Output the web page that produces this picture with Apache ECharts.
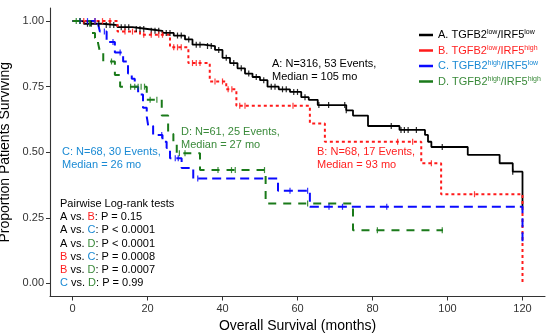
<!DOCTYPE html>
<html><head><meta charset="utf-8">
<script src="https://cdn.jsdelivr.net/npm/echarts@6/dist/echarts.min.js"></script>
<style>html,body{margin:0;padding:0;background:#fff}#c{width:550px;height:333px}</style>
</head><body><div id="c"></div>
<script>
// ---- data (months, survival proportion after each step) ----
const xTicks = [0, 20, 40, 60, 80, 100, 120];
const yTicks = [0, 0.25, 0.5, 0.75, 1.0];

const timesA = [0, 3, 8, 12, 16, 20, 24, 27, 30, 32, 35, 38, 40, 42, 44, 46, 48, 50, 52, 55, 58, 61, 63, 65.4, 73, 74.8, 78.8, 87.2, 94, 94.8, 95.7, 105.4, 113.9, 117.4, 120];
const survA  = [1.0, 0.99, 0.985, 0.977, 0.97, 0.963, 0.955, 0.945, 0.93, 0.91, 0.905, 0.89, 0.86, 0.84, 0.82, 0.80, 0.787, 0.775, 0.75, 0.74, 0.73, 0.71, 0.70, 0.68, 0.66, 0.64, 0.60, 0.585, 0.566, 0.54, 0.52, 0.49, 0.458, 0.426, 0.29];
const censA  = [2, 4, 5, 7, 9, 10, 11, 13, 14, 15, 17, 18, 19, 21, 22, 23, 25, 26, 28, 29, 31, 33, 34, 36, 37, 39, 41, 43, 45, 47, 49, 51, 53, 54, 56, 57, 59, 60, 62, 65.7, 68.3, 72.6, 73, 85, 87.6, 88.5, 89.5, 91.7, 98.6, 117.4];

const timesB = [0, 12, 18, 26, 30.9, 36.6, 41, 43.7, 63.3, 67.3, 93, 98.3, 120];
const survB  = [1.0, 0.96, 0.948, 0.90, 0.84, 0.77, 0.74, 0.677, 0.61, 0.54, 0.458, 0.34, 0.0];
const censB  = [3, 6, 8, 10, 14, 16, 19, 21, 23, 24, 27, 28, 29, 32, 33, 34, 38, 40, 41.5, 42.5, 44.6, 46, 58.8, 86.7, 90.7, 95.7, 107.2];

const timesC = [0, 6.8, 7.3, 9.1, 11.3, 13.5, 14.8, 15.8, 16.6, 17.5, 18.8, 19.8, 20.2, 21.5, 24, 25.1, 26, 29.1, 32.2, 54.8, 63.3, 120];
const survC  = [1.0, 0.99, 0.96, 0.92, 0.88, 0.846, 0.80, 0.78, 0.75, 0.72, 0.67, 0.636, 0.60, 0.566, 0.54, 0.516, 0.477, 0.44, 0.40, 0.353, 0.292, 0.15];
const censC  = [2, 4, 6, 8.5, 10.8, 12.7, 23.8, 27.4, 28.2, 33.4, 58, 62.7, 68.4, 72, 83.8];

const timesD = [0, 4.7, 5.1, 6, 6.8, 7.3, 8.2, 11.3, 12.7, 19.8, 23.8, 25.5, 26.9, 27.8, 34, 51.5, 74.8, 98.8];
const survD  = [1.0, 0.98, 0.955, 0.936, 0.917, 0.884, 0.846, 0.795, 0.75, 0.70, 0.64, 0.57, 0.535, 0.496, 0.432, 0.305, 0.203, 0.203];
const censD  = [1, 2, 10.4, 15.5, 16.6, 17.5, 18.3, 19.2, 20.7, 22.5, 28.5, 30, 38.8, 42.4, 43.4, 51.2, 62.7, 81.3, 98.6];

const groupNames = ['A', 'B', 'C', 'D'];
const groupLabels = ['A. TGFB2|low|/IRF5|low', 'B. TGFB2|low|/IRF5|high', 'C. TGFB2|high|/IRF5|low', 'D. TGFB2|high|/IRF5|high'];
const annotA = ['A: N=316, 53 Events,', 'Median = 105 mo'];
const annotB = ['B: N=68, 17 Events,', 'Median = 93 mo'];
const annotC = ['C: N=68, 30 Events,', 'Median = 26 mo'];
const annotD = ['D: N=61, 25 Events,', 'Median = 27 mo'];
const pairTitle = 'Pairwise Log-rank tests';
const pairs = [['A', 'B', 'P = 0.15'], ['A', 'C', 'P < 0.0001'], ['A', 'D', 'P < 0.0001'], ['B', 'C', 'P = 0.0008'], ['B', 'D', 'P = 0.0007'], ['C', 'D', 'P = 0.99']];

// ---- styles ----
const lineColors = {A: '#000000', B: '#ff1a1a', C: '#0a0aff', D: '#1a7a1a'};
const textColors = {A: '#000000', B: '#ff2020', C: '#1a8ad4', D: '#3a8a3a'};
const dashes = {A: 'solid', B: [3, 3], C: [9, 5], D: [8, 7]};
const FONT = 'Liberation Sans, Arial, sans-serif';

function pts(t, s) { return t.map((v, i) => [v, s[i]]); }
function stepAt(t, s, x) { let v = s[0]; for (let i = 0; i < t.length; i++) { if (t[i] <= x) v = s[i]; } return v; }
function cens(c, t, s) { return c.map(x => [x, stepAt(t, s, x)]); }

const curves = {A: [timesA, survA, censA], B: [timesB, survB, censB], C: [timesC, survC, censC], D: [timesD, survD, censD]};

const series = [];
groupNames.forEach(g => {
  const [t, s] = curves[g];
  series.push({
    name: g, type: 'line', step: 'end', data: pts(t, s), symbol: 'none',
    lineStyle: {color: lineColors[g], width: g === 'A' ? 1.8 : 2, type: dashes[g]},
    itemStyle: {color: lineColors[g]}, z: g === 'A' ? 2 : 3, silent: true, animation: false
  });
});
groupNames.forEach(g => {
  const [t, s, c] = curves[g];
  series.push({
    name: g + '-cens', type: 'scatter', data: cens(c, t, s), symbol: 'rect', symbolSize: [1.2, 6],
    itemStyle: {color: lineColors[g], opacity: 0.85}, silent: true, animation: false, z: 4
  });
});

function legendText(label) {
  const parts = label.split('|');
  return parts.map((p, i) => (i % 2 === 1 ? '{s|' + p + '}' : '{n|' + p + '}')).join('');
}

const pairRich = {k: {fill: '#000', font: '11px ' + FONT, lineHeight: 13.3}};
groupNames.forEach(g => { pairRich[g] = {fill: textColors[g], font: '11px ' + FONT, lineHeight: 13.3}; });
const pairLines = ['{k|' + pairTitle + '}'].concat(pairs.map(p => '{' + p[0] + '|' + p[0] + '}{k| vs. }{' + p[1] + '|' + p[1] + '}{k|: ' + p[2] + '}'));

function annot(lines, color, x, y) {
  return {type: 'text', left: x, top: y, silent: true,
    style: {text: lines.join('\n'), fill: color, font: '11px ' + FONT, lineHeight: 13.3}};
}

const chart = echarts.init(document.getElementById('c'), null, {renderer: 'canvas'});
chart.setOption({
  animation: false,
  backgroundColor: '#ffffff',
  grid: {left: 50, right: 5, top: 8, bottom: 36.5, containLabel: false, outerBoundsMode: 'none'},
  xAxis: {
    type: 'value', min: -6, max: 126,
    name: 'Overall Survival (months)', nameLocation: 'middle', nameGap: 23,
    nameTextStyle: {fontSize: 14, color: '#000', fontFamily: FONT},
    axisLine: {show: true, onZero: false, lineStyle: {color: '#333', width: 1.1}},
    axisTick: {show: true, customValues: xTicks, length: 4, lineStyle: {color: '#333'}},
    axisLabel: {customValues: xTicks, fontSize: 11, color: '#333', fontFamily: FONT, margin: 7},
    splitLine: {show: false}
  },
  yAxis: {
    type: 'value', min: -0.05, max: 1.05,
    name: 'Proportion Patients Surviving', nameLocation: 'middle', nameGap: 31,
    nameTextStyle: {fontSize: 14, color: '#000', fontFamily: FONT},
    axisLine: {show: true, onZero: false, lineStyle: {color: '#333', width: 1.1}},
    axisTick: {show: true, customValues: yTicks, length: 4, lineStyle: {color: '#333'}},
    axisLabel: {customValues: yTicks, fontSize: 11, color: '#333', fontFamily: FONT, margin: 6,
      formatter: v => v.toFixed(2)},
    splitLine: {show: false}
  },
  legend: {
    orient: 'vertical', left: 414, top: 24, itemGap: 4, itemWidth: 14, itemHeight: 2.5, icon: 'rect',
    data: groupNames.map(g => ({name: g, textStyle: {color: textColors[g]}})),
    formatter: name => legendText(groupLabels[groupNames.indexOf(name)]),
    textStyle: {fontFamily: FONT, fontSize: 11, padding: [0, 0, 0, 0],
      rich: {n: {fontSize: 11, fontFamily: FONT, lineHeight: 12},
             s: {fontSize: 7, fontFamily: FONT, verticalAlign: 'top', lineHeight: 7}}},
    selectedMode: false
  },
  graphic: [
    annot(annotA, textColors.A, 272, 57),
    annot(annotB, textColors.B, 317, 145),
    annot(annotC, textColors.C, 62, 145),
    annot(annotD, textColors.D, 181, 125),
    {type: 'text', left: 60, top: 197, silent: true,
      style: {text: pairLines.join('\n'), rich: pairRich, font: '11px ' + FONT, lineHeight: 13.3}}
  ],
  series: series
});
</script></body></html>
